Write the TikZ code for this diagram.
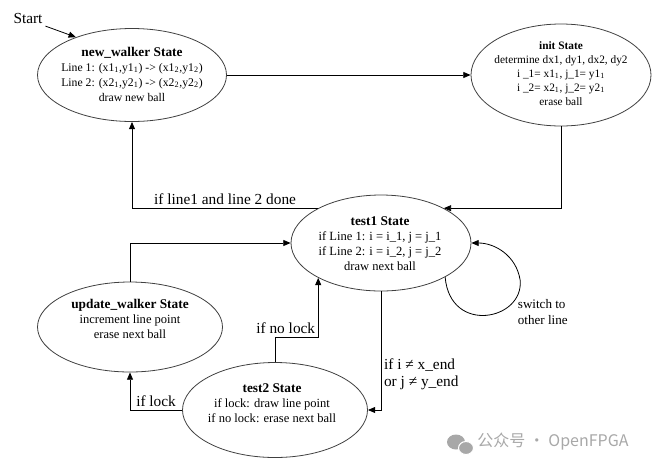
\documentclass[tikz,border=0pt]{standalone}
\usepackage{fontspec}
\setmainfont{Liberation Serif}
\newfontfamily\cjkfont{Noto Sans CJK SC}
\usepackage{xcolor}
\usetikzlibrary{shapes.geometric,arrows.meta,positioning}
\definecolor{wmgray}{HTML}{A8A8A8}
\newcommand\sttitle[1]{{\fontsize{10}{11.25}\selectfont\textbf{#1}}}

\begin{document}
\begin{tikzpicture}[
  x=0.75pt, y=-0.75pt,
  state/.style={draw=black!75, line width=0.6pt, ellipse, inner sep=0pt},
  statetxt/.style={align=center, font=\fontsize{9.4}{11.25}\selectfont, inner sep=0pt},
  lbl/.style={font=\fontsize{11.5}{13}\selectfont, inner sep=2pt},
  arr/.style={draw, line width=0.6pt, -{Triangle[length=5.5pt,width=4.5pt]}},
]
\useasboundingbox (0,0) rectangle (670,472);

% --- States ---
\node[state, minimum width=141.75pt, minimum height=69.75pt] (walker) at (132,75) {};
\node[statetxt, font=\fontsize{8.8}{11.25}\selectfont] (walkertxt) at (132,74.5) {\sttitle{new\_walker State}\\
  Line 1: (x1\textsubscript{1},y1\textsubscript{1}) -> (x1\textsubscript{2},y1\textsubscript{2})\\
  Line 2: (x2\textsubscript{1},y2\textsubscript{1}) -> (x2\textsubscript{2},y2\textsubscript{2})\\
  draw new ball};

\node[state, minimum width=135pt, minimum height=76.5pt] (init) at (561,75) {};
\node[statetxt, font=\fontsize{8.5}{10.5}\selectfont] (inittxt) at (561,73.5) {\textbf{init State}\\
  determine dx1, dy1, dx2, dy2\\
  i \_1= x1\textsubscript{1}, j\_1= y1\textsubscript{1}\\
  i \_2= x2\textsubscript{1}, j\_2= y2\textsubscript{1}\\
  erase ball};

\node[state, minimum width=135pt, minimum height=72pt] (test1) at (381,243) {};
\node[statetxt] (test1txt) at (380,243.5) {\sttitle{test1 State}\\
  if Line 1: i = i\_1, j = j\_1\\
  if Line 2: i = i\_2, j = j\_2\\
  draw next ball};

\node[state, minimum width=138.75pt, minimum height=67.5pt] (upd) at (130,327) {};
\node[statetxt] (updtxt) at (130,319) {\sttitle{update\_walker State}\\
  increment line point\\
  erase next ball};

\node[state, minimum width=138.75pt, minimum height=71.25pt] (test2) at (275,410) {};
\node[statetxt] (test2txt) at (272,403) {\sttitle{test2 State}\\
  if lock: draw line point\\
  if no lock: erase next ball};

% --- Transitions ---
\node[lbl] (start) at (28,18) {Start};
\draw[arr] (start.south east) -- (walker.146);
\draw[arr] (walker.east) -- (init.west);
\draw[arr] (init.south) |- (test1.29);
\draw[arr] (test1.151) -| node[lbl, pos=0.25, above] (donelbl) {if line1 and line 2 done} (walker.south);
\draw[arr] (upd.north) |- (test1.west);
\draw[arr] (test2.west) -| node[lbl, pos=0.25, above] (locklbl) {if lock} (upd.south);
\draw[arr] (test2.north) -- ++(0,-25) -| node[lbl, pos=0.5, above left] (nolocklbl) {if no lock} (test1.-151);
\draw[arr] (test1.south) |- node[lbl, pos=0.35, right, align=left] (endlbl) {if i ≠ x\_end\\ or j ≠ y\_end} (test2.east);
\draw[arr] (test1.-28) .. controls +(5,58) and +(4,40) .. ++(75,3)
  .. controls +(-4,-25) and +(23,0) .. (test1.east);
\node[lbl, anchor=west, align=left, font=\fontsize{9.8}{11.5}\selectfont] (switchlbl) at (515,312) {switch to\\ other line};

% --- Watermark ---
\fill[wmgray] (456,442) ellipse (9 and 7.5);
\filldraw[wmgray, draw=white, line width=0.8pt] (466,448) ellipse (7.5 and 6.5);
\node[anchor=west, text=wmgray, inner sep=0pt, font=\cjkfont\fontsize{12}{14}\selectfont] (wmtxt) at (477,442) {公众号 · OpenFPGA};
\end{tikzpicture}
\end{document}
